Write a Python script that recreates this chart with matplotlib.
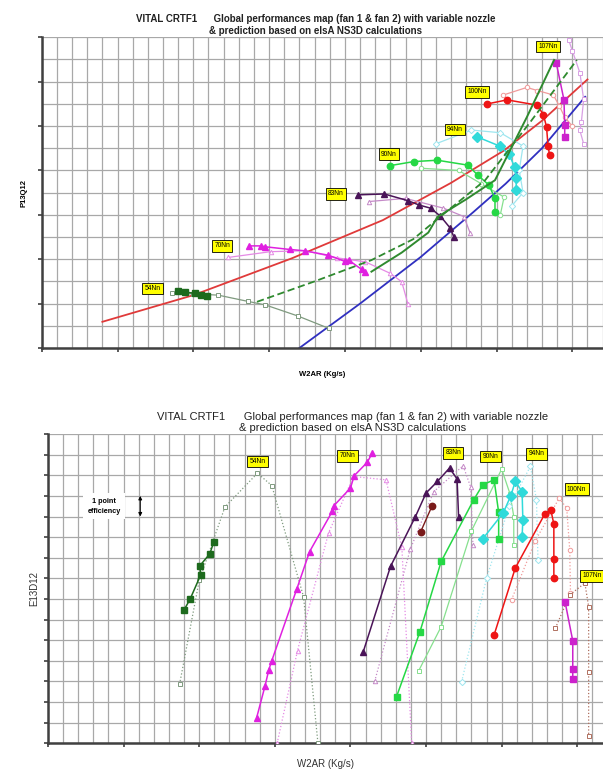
"""
VITAL CRTF1 performance maps: pressure ratio (top) and efficiency (bottom)
against corrected mass flow, one speed line per rotor speed.
"""

import matplotlib

matplotlib.use("Agg")
import matplotlib.pyplot as plt
from matplotlib.ticker import MultipleLocator

TITLE = ("VITAL CRTF1      Global performances map (fan 1 & fan 2) with variable nozzle\n"
         "& prediction based on elsA NS3D calculations")

# ── Top map: P13Q12 vs W2AR (axis units = major ticks) ──────────────────────
RED_X = [0.8, 2.0, 3.3, 4.5, 5.4, 6.1, 6.6, 7.2]
RED_Y = [0.59, 1.19, 2.02, 2.88, 3.72, 4.45, 5.12, 6.05]
BLUE_X = [3.4, 4.2, 5.0, 5.7, 6.12, 6.6, 7.17]
BLUE_Y = [0.0, 1.0, 2.05, 3.07, 3.7, 4.5, 5.66]
GRN_SOLID_X = [4.35, 4.75, 5.1, 5.22, 5.6, 5.98, 6.4, 6.76]
GRN_SOLID_Y = [1.72, 2.15, 2.6, 2.95, 3.35, 3.78, 5.2, 6.49]
GRN_DASH_X = [2.84, 3.6, 4.35, 4.9, 5.26, 5.85, 6.45, 7.06]
GRN_DASH_Y = [1.04, 1.5, 1.98, 2.45, 2.96, 3.78, 5.1, 6.49]

T54_X = [1.8, 1.89, 2.02, 2.1, 2.18]
T54_Y = [1.28, 1.26, 1.23, 1.19, 1.18]
T54_OPEN_X = [1.72, 2.0, 2.33, 2.72, 2.95, 3.38, 3.79]
T54_OPEN_Y = [1.23, 1.22, 1.19, 1.05, 0.97, 0.72, 0.44]
T70_X = [2.74, 2.89, 2.95, 3.27, 3.47, 3.78, 4.0, 4.05, 4.22, 4.27]
T70_Y = [2.30, 2.30, 2.28, 2.22, 2.19, 2.09, 1.95, 1.98, 1.77, 1.72]
T70_OPEN_X = [2.46, 3.02, 3.47, 3.9, 4.27, 4.6, 4.75, 4.83]
T70_OPEN_Y = [2.04, 2.17, 2.19, 2.03, 1.94, 1.68, 1.49, 1.0]
T83_X = [4.17, 4.52, 4.83, 4.98, 5.13, 5.26, 5.39, 5.44]
T83_Y = [3.45, 3.47, 3.32, 3.22, 3.15, 2.97, 2.70, 2.49]
T83_OPEN_X = [4.32, 4.8, 5.3, 5.57, 5.65]
T83_OPEN_Y = [3.3, 3.37, 3.15, 2.96, 2.6]
T90_X = [4.6, 4.91, 5.22, 5.62, 5.75, 5.9, 5.98, 5.98]
T90_Y = [4.11, 4.2, 4.23, 4.12, 3.9, 3.67, 3.37, 3.07]
T90_OPEN_X = [5.0, 5.5, 5.8, 6.1, 6.05]
T90_OPEN_Y = [4.05, 4.0, 3.7, 3.4, 3.0]
T94_X = [5.74, 6.04, 6.16, 6.24, 6.26, 6.26]
T94_Y = [4.76, 4.55, 4.38, 4.08, 3.82, 3.56]
T94_OPEN_X = [5.2, 5.67, 6.05, 6.35, 6.3, 6.35, 6.2]
T94_OPEN_Y = [4.6, 4.91, 4.85, 4.55, 4.0, 3.5, 3.2]
T100_X = [5.88, 6.14, 6.54, 6.62, 6.66, 6.68, 6.7]
T100_Y = [5.5, 5.59, 5.47, 5.25, 4.98, 4.55, 4.35]
T100_OPEN_X = [6.09, 6.4, 6.54, 6.75, 6.83, 6.9, 7.0]
T100_OPEN_Y = [5.7, 5.87, 5.8, 5.7, 5.45, 5.2, 5.0]
T107_X = [6.79, 6.89, 6.9, 6.9]
T107_Y = [6.41, 5.59, 5.03, 4.76]
T107_OPEN_X = [6.95, 7.0, 7.1, 7.15, 7.12, 7.1, 7.15]
T107_OPEN_Y = [6.95, 6.7, 6.2, 5.6, 5.1, 4.9, 4.6]

TOP_LABELS = ["54Nn", "70Nn", "83Nn", "90Nn", "94Nn", "100Nn", "107Nn"]
TOP_LABEL_X = [1.46, 2.38, 3.88, 4.58, 5.45, 5.74, 6.68]
TOP_LABEL_Y = [1.34, 2.30, 3.47, 4.37, 4.92, 5.77, 6.79]

# ── Bottom map: E13D12 vs W2AR ──────────────────────────────────────────────
B54_X = [1.80, 1.88, 2.02, 2.01, 2.14, 2.19]
B54_Y = [6.47, 7.0, 8.17, 8.62, 9.19, 9.74]
B54_OPEN_X = [1.74, 2.0, 2.34, 2.77, 2.96, 3.38, 3.57]
B54_OPEN_Y = [2.86, 7.9, 11.46, 13.1, 12.5, 7.1, 0.0]
B70_X = [2.76, 2.87, 2.92, 2.96, 3.29, 3.46, 3.76, 3.78, 4.0, 4.05, 4.22, 4.29]
B70_Y = [1.25, 2.78, 3.56, 4.01, 7.48, 9.3, 11.25, 11.52, 12.38, 12.98, 13.62, 14.08]
B70_OPEN_X = [3.03, 3.3, 3.71, 4.04, 4.47, 4.68, 4.81]
B70_OPEN_Y = [0.0, 4.5, 10.2, 12.94, 12.78, 9.5, 0.0]
B83_X = [4.17, 4.53, 4.86, 5.0, 5.15, 5.31, 5.41, 5.43]
B83_Y = [4.45, 8.58, 11.0, 12.14, 12.7, 13.35, 12.82, 11.0]
B83_DARK_X = [4.93, 5.08]
B83_DARK_Y = [10.27, 11.52]
B83_OPEN_X = [4.32, 4.79, 5.1, 5.49, 5.59, 5.62]
B83_OPEN_Y = [3.0, 9.4, 12.2, 13.46, 12.43, 9.6]
B90_X = [4.61, 4.92, 5.2, 5.63, 5.75, 5.9, 5.96, 5.96]
B90_Y = [2.27, 5.42, 8.82, 11.81, 12.54, 12.78, 11.2, 9.9]
B90_OPEN_X = [4.9, 5.2, 5.6, 6.0, 6.11, 6.16, 6.16]
B90_OPEN_Y = [3.5, 5.66, 10.3, 13.3, 12.1, 11.0, 9.6]
B94_X = [5.75, 6.02, 6.12, 6.18, 6.27, 6.28, 6.27]
B94_Y = [9.92, 11.17, 12.0, 12.7, 12.21, 10.84, 10.0]
B94_OPEN_X = [5.47, 5.8, 6.1, 6.38, 6.46, 6.48]
B94_OPEN_Y = [2.99, 8.0, 11.5, 13.43, 11.81, 8.9]
B100_X = [5.9, 6.18, 6.57, 6.65, 6.69, 6.69, 6.69]
B100_Y = [5.26, 8.5, 11.12, 11.32, 10.63, 8.93, 8.0]
B100_OPEN_X = [6.13, 6.44, 6.76, 6.86, 6.9, 6.91]
B100_OPEN_Y = [6.96, 9.79, 11.89, 11.41, 9.38, 7.28]
B107_X = [6.84, 6.94, 6.94, 6.94]
B107_Y = [6.83, 4.97, 3.59, 3.11]
B107_OPEN_X = [6.71, 6.9, 7.1, 7.15, 7.15, 7.15]
B107_OPEN_Y = [5.58, 7.2, 7.77, 6.63, 3.48, 0.36]

BOT_LABELS = ["54Nn", "70Nn", "83Nn", "90Nn", "94Nn", "100Nn", "107Nn"]
BOT_LABEL_X = [2.77, 3.96, 5.36, 5.85, 6.46, 6.99, 7.2]
BOT_LABEL_Y = [13.67, 13.95, 14.08, 13.91, 14.04, 12.33, 8.12]

# speed colours: (experiment, prediction)
C54 = ("#1d6a1d", "#7f9a7f")
C70 = ("#e020e0", "#e58ae5")
C83 = ("#4a1458", "#c58ac8")
C90 = ("#25d845", "#86e08e")
C94 = ("#30dada", "#9ee6ef")
C100 = ("#ee1515", "#f09a9a")
C107 = ("#cc22cc", "#d8a0e4")
C107_BOT = ("#cc22cc", "#b07060")


def style_axes(ax, xmax, ymax, ymajor, yminor):
    ax.set_xlim(0, xmax)
    ax.set_ylim(0, ymax)
    ax.xaxis.set_major_locator(MultipleLocator(1))
    ax.xaxis.set_minor_locator(MultipleLocator(0.2))
    ax.yaxis.set_major_locator(MultipleLocator(ymajor))
    ax.yaxis.set_minor_locator(MultipleLocator(yminor))
    ax.grid(True, which="both", color="#a8a8a8", linewidth=0.9)
    ax.set_axisbelow(True)
    for side in ("top", "right"):
        ax.spines[side].set_visible(False)
    for side in ("left", "bottom"):
        ax.spines[side].set_color("#404040")
        ax.spines[side].set_linewidth(1.8)
    ax.tick_params(which="major", length=3, width=1.2, color="#404040",
                   labelleft=False, labelbottom=False)
    ax.tick_params(which="minor", length=0)


def speed_line(ax, xs, ys, ox, oy, colors, marker, open_ls):
    ax.plot(ox, oy, color=colors[1], linestyle=open_ls, linewidth=0.9,
            marker=marker, markersize=3.2, markerfacecolor="white",
            markeredgecolor=colors[1], markeredgewidth=0.7, zorder=3)
    ax.plot(xs, ys, color=colors[0], linewidth=1.1, marker=marker,
            markersize=4.6, markerfacecolor=colors[0],
            markeredgecolor=colors[0], zorder=4)


def tag(ax, x, y, s):
    ax.text(x, y, s, fontsize=4.8, ha="center", va="center", zorder=6,
            bbox=dict(boxstyle="square,pad=0.35", fc="#ffff00", ec="black", lw=0.6))


fig = plt.figure(figsize=(6.03, 7.69), dpi=100)
plt.rcParams["font.family"] = ["Liberation Sans", "DejaVu Sans"]

# ── top panel ──
ax1 = fig.add_axes([0.0692, 0.5475, 1.0 - 0.0692, 0.404])
style_axes(ax1, 7.405, 7.0, 1, 0.5)
ax1.plot(RED_X, RED_Y, color="#e03a3a", linewidth=1.3, zorder=2)
ax1.plot(BLUE_X, BLUE_Y, color="#3030c0", linewidth=1.3, zorder=2)
ax1.plot(GRN_DASH_X, GRN_DASH_Y, color="#2f8a2f", linewidth=1.3,
         linestyle=(0, (4, 2)), zorder=5)
ax1.plot(GRN_SOLID_X, GRN_SOLID_Y, color="#2f8a2f", linewidth=1.4, zorder=5)

speed_line(ax1, T54_X, T54_Y, T54_OPEN_X, T54_OPEN_Y, C54, "s", "-")
speed_line(ax1, T70_X, T70_Y, T70_OPEN_X, T70_OPEN_Y, C70, "^", "-")
speed_line(ax1, T83_X, T83_Y, T83_OPEN_X, T83_OPEN_Y, C83, "^", "-")
speed_line(ax1, T90_X, T90_Y, T90_OPEN_X, T90_OPEN_Y, C90, "o", "-")
speed_line(ax1, T94_X, T94_Y, T94_OPEN_X, T94_OPEN_Y, C94, "D", "-")
speed_line(ax1, T100_X, T100_Y, T100_OPEN_X, T100_OPEN_Y, C100, "o", "-")
speed_line(ax1, T107_X, T107_Y, T107_OPEN_X, T107_OPEN_Y, C107, "s", "-")
for x, y, s in zip(TOP_LABEL_X, TOP_LABEL_Y, TOP_LABELS):
    tag(ax1, x, y, s)

ax1.set_ylabel("P13Q12", fontsize=5.5, fontweight="bold", labelpad=7)
ax1.set_xlabel("W2AR (Kg/s)", fontsize=5.5, fontweight="bold", labelpad=13)
fig.text(0.524, 0.953, TITLE, fontsize=7, fontweight="bold", ha="center",
         va="bottom", linespacing=1.3, color="#222222")

# ── bottom panel ──
ax2 = fig.add_axes([0.0796, 0.0334, 1.0 - 0.0796, 0.4022])
style_axes(ax2, 7.34, 15.0, 1, 1)
ax2.tick_params(which="major", length=3)

speed_line(ax2, B54_X, B54_Y, B54_OPEN_X, B54_OPEN_Y, C54, "s", ":")
speed_line(ax2, B70_X, B70_Y, B70_OPEN_X, B70_OPEN_Y, C70, "^", ":")
speed_line(ax2, B83_X, B83_Y, B83_OPEN_X, B83_OPEN_Y, C83, "^", ":")
ax2.plot(B83_DARK_X, B83_DARK_Y, color="#7a1a1a", linewidth=1.0, marker="o",
         markersize=4.6, zorder=4)
speed_line(ax2, B90_X, B90_Y, B90_OPEN_X, B90_OPEN_Y, C90, "s", "-")
speed_line(ax2, B94_X, B94_Y, B94_OPEN_X, B94_OPEN_Y, C94, "D", ":")
speed_line(ax2, B100_X, B100_Y, B100_OPEN_X, B100_OPEN_Y, C100, "o", ":")
speed_line(ax2, B107_X, B107_Y, B107_OPEN_X, B107_OPEN_Y, C107_BOT, "s", ":")
for x, y, s in zip(BOT_LABEL_X, BOT_LABEL_Y, BOT_LABELS):
    tag(ax2, x, y, s)

ax2.text(0.74, 11.5, "1 point\nefficiency", fontsize=5.2, fontweight="bold",
         ha="center", va="center", linespacing=1.6, zorder=6,
         bbox=dict(boxstyle="square,pad=0.6", fc="white", ec="none"))
ax2.annotate("", xy=(1.22, 12.0), xytext=(1.22, 11.0), zorder=6,
             arrowprops=dict(arrowstyle="<|-|>", lw=0.8, color="black",
                             mutation_scale=5, shrinkA=0, shrinkB=0))

ax2.set_ylabel("E13D12", fontsize=7, color="#333333", labelpad=3)
ax2.set_xlabel("W2AR (Kg/s)", fontsize=7, color="#333333", labelpad=8)
fig.text(0.584, 0.4372, TITLE, fontsize=8, ha="center", va="bottom",
         linespacing=1.1, color="#222222")

fig.savefig("out.png", dpi=100)
